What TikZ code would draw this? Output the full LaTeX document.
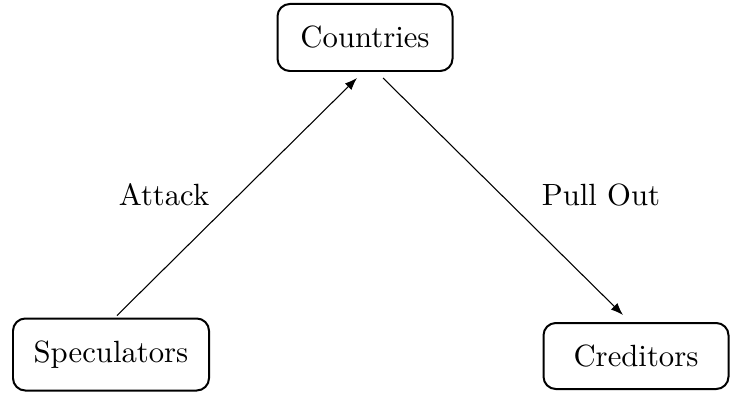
\documentclass[tikz,border=0pt]{standalone}
\usetikzlibrary{arrows.meta}
\begin{document}
\begin{tikzpicture}[x=0.3257pt,y=-0.3257pt,
  box/.style={draw,line width=0.65pt,rounded corners=4pt,inner sep=0pt,font=\fontsize{10}{12}\selectfont},
  conn/.style={line width=0.35pt,-{Latex[length=4pt,width=3pt]}},
  lbl/.style={inner sep=0pt,font=\fontsize{10}{12}\selectfont}]
\useasboundingbox (0,0) rectangle (730,393);
\node[box,minimum width={175*0.3257pt},minimum height={67*0.3257pt}] (countries) at (365,37.5) {Countries};
\node[box,minimum width={196*0.3257pt},minimum height={72*0.3257pt}] (spec) at (111,354.5) {Speculators};
\node[box,minimum width={185*0.3257pt},minimum height={66*0.3257pt}] (cred) at (636,356) {Creditors};
\node[lbl] (attack) at (164,195) {Attack};
\node[lbl] (pull) at (601,195) {Pull Out};
\draw[conn] ([xshift=6*0.3257pt,yshift=2*0.3257pt]spec.north) -- ([xshift=-8*0.3257pt,yshift=-6*0.3257pt]countries.south);
\draw[conn] ([xshift=18*0.3257pt,yshift=-6*0.3257pt]countries.south) -- ([xshift=-13*0.3257pt,yshift=7*0.3257pt]cred.north);
\end{tikzpicture}
\end{document}
